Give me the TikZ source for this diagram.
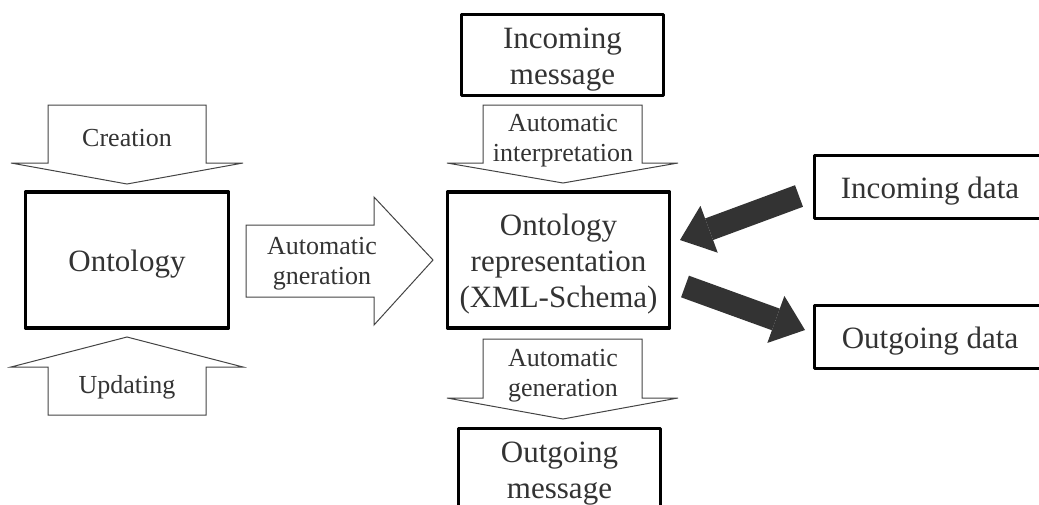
\documentclass[tikz,border=0pt]{standalone}
\usepackage{fontspec}
\setmainfont{Liberation Serif}
\usetikzlibrary{arrows.meta}
\definecolor{txt}{HTML}{333333}
\definecolor{darkfill}{HTML}{333333}
\definecolor{outl}{HTML}{444444}
\newcommand\fbig{\fontsize{31}{36}\selectfont}
\newcommand\fsmall{\fontsize{26}{30}\selectfont}
\begin{document}
\begin{tikzpicture}[x=1pt,y=-1pt,
  box/.style={draw=black, line width=3.4pt, line join=round, fill=white, inner sep=0pt},
  boxtext/.style={text=txt, align=center, font=\fbig, inner sep=0pt, yshift=-4.5pt},
  blockarrow/.style={draw=outl, line width=1pt, fill=white},
  lbl/.style={text=txt, align=center, font=\fsmall, inner sep=0pt},
  darkarrow/.style={draw=darkfill, line width=23pt, -{Triangle[length=31pt,width=50pt,line width=0pt]}}]
\useasboundingbox (0,0) rectangle (1039,504);

% block arrows
\draw[blockarrow] (48,105) -- (206,105) -- (206,163) -- (243,163) -- (127,184) -- (11,163) -- (48,163) -- cycle;
\draw[blockarrow] (127,337) -- (243,367) -- (206,367) -- (206,415) -- (48,415) -- (48,367) -- (11,367) -- cycle;
\draw[blockarrow] (246,225) -- (374,225) -- (374,197) -- (433,260) -- (374,325) -- (374,297) -- (246,297) -- cycle;
\draw[blockarrow] (483,105) -- (642,105) -- (642,163) -- (678,163) -- (563,183) -- (447,163) -- (483,163) -- cycle;
\draw[blockarrow] (483,339) -- (642,339) -- (642,398) -- (678,398) -- (563,419) -- (447,398) -- (483,398) -- cycle;

% labels in block arrows
\node[lbl] (lcre) at (127,138) {Creation};
\node[lbl] (lupd) at (127,387) {Updating};
\node[lbl] (lgen1) at (322,264) {Automatic\\gneration};
\node[lbl] (lint) at (563,141) {Automatic\\interpretation};
\node[lbl] (lgen2) at (563,376) {Automatic\\generation};

% boxes
\node[box, minimum width=203pt, minimum height=136pt, label={[boxtext]center:Ontology}] (onto) at (127,260) {};
\node[box, minimum width=222pt, minimum height=136pt, label={[boxtext]center:{Ontology\\representation\\(XML-Schema)}}] (rep) at (558.5,260) {};
\node[box, minimum width=202pt, minimum height=81pt, label={[boxtext]center:{Incoming\\message}}] (inmsg) at (562.5,55) {};
\node[box, minimum width=202pt, minimum height=81pt, label={[boxtext]center:{Outgoing\\message}}] (outmsg) at (559.5,469) {};
\node[box, minimum width=231pt, minimum height=63pt, label={[boxtext]center:Incoming data}] (indata) at (930,187) {};
\node[box, minimum width=231pt, minimum height=63pt, label={[boxtext]center:Outgoing data}] (outdata) at (930,337) {};

% dark arrows
\coordinate (inTail) at (799,196);
\coordinate (inTip) at (680,240);
\coordinate (outTail) at (685,286.5);
\coordinate (outTip) at (805,330);
\draw[darkarrow] (inTail) -- (inTip);
\draw[darkarrow] (outTail) -- (outTip);
\end{tikzpicture}
\end{document}
